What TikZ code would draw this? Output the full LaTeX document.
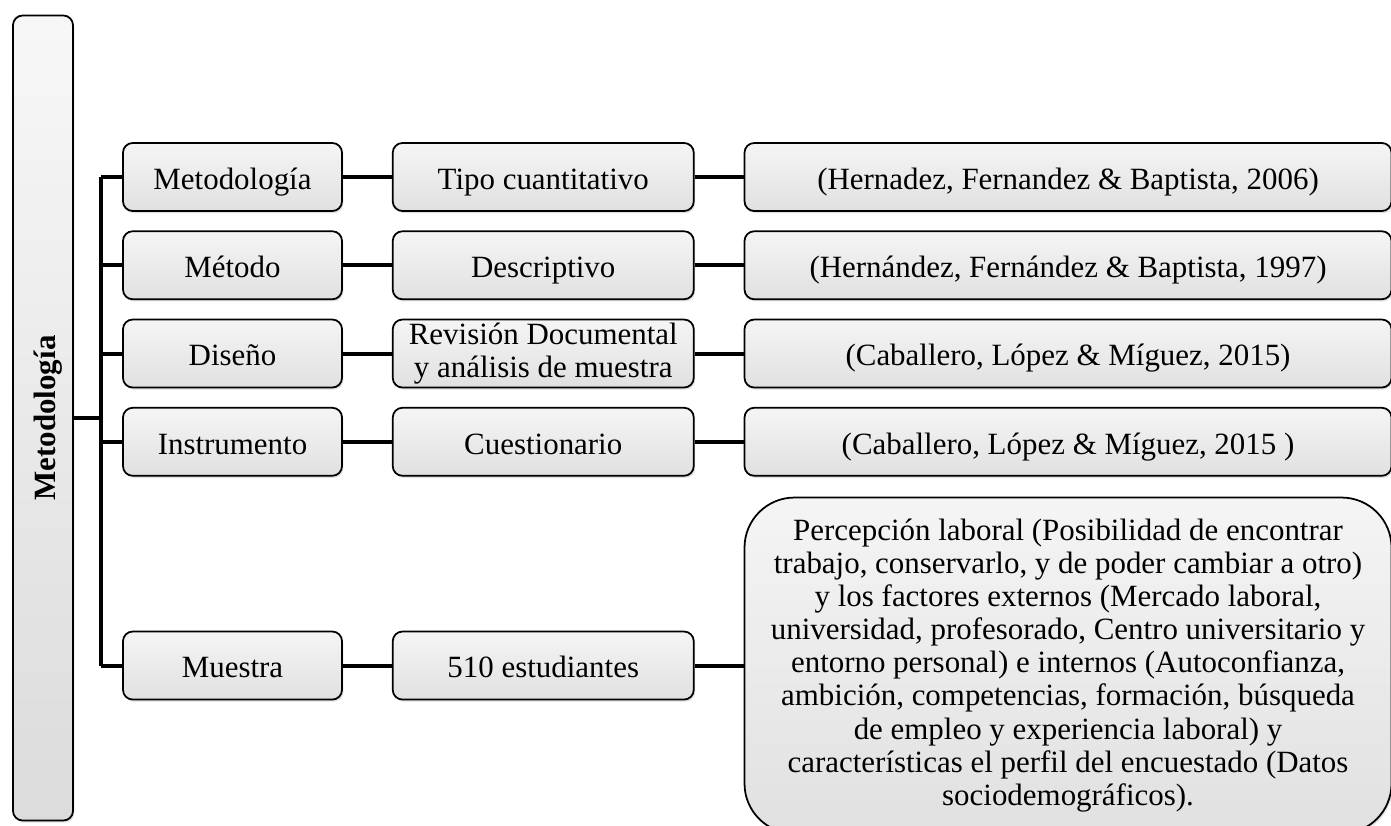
\documentclass[tikz,border=0pt]{standalone}
\usepackage{fontspec}
\setmainfont{Liberation Serif}
\usetikzlibrary{positioning,calc,shadows}
\tikzset{
    line/.style    = {line width=2.3pt, draw=black},
    box/.style     = {draw=black, line width=1pt, rounded corners=5.5pt,
            top color=gray!8, bottom color=gray!24,
            drop shadow={opacity=0.25, shadow xshift=0.8pt, shadow yshift=-1.2pt},
            minimum height=1.36cm, align=center, inner sep=1pt,
            text height=16.5pt, text depth=2.5pt,
            font=\fontsize{17.6}{18.8}\selectfont},
    multi/.style   = {text height={}, text depth={}},
    itemA/.style   = {box, minimum width=4.38cm},
    itemB/.style   = {box, minimum width=6.02cm},
    itemC/.style   = {box, minimum width=12.94cm},
    bigbox/.style  = {itemC, multi, minimum height=6.72cm, rounded corners=1cm},
    rootbox/.style = {box, rotate=90, minimum width=16.1cm, minimum height=1.2cm,
            top color=gray!6, bottom color=gray!28,
            font=\fontsize{17.6}{18.8}\selectfont\bfseries},
}

\begin{document}
\begin{tikzpicture}
    \useasboundingbox (0,0) rectangle (27.82,-16.5);
    % Nodes
    \node[rootbox] (root) at (0.86,-8.36) {Metodología};
    \node[itemA] (metA) at (4.65,-3.54) {Metodología};
    \node[itemB, right=0.98cm of metA] (metB) {Tipo cuantitativo};
    \node[itemC, right=0.98cm of metB] (metC) {(Hernadez, Fernandez \& Baptista, 2006)};
    \node[itemA, below=0.37cm of metA] (mtdA) {Método};
    \node[itemB, right=0.98cm of mtdA] (mtdB) {Descriptivo};
    \node[itemC, right=0.98cm of mtdB] (mtdC) {(Hernández, Fernández \& Baptista, 1997)};
    \node[itemA, below=0.37cm of mtdA] (disA) {Diseño};
    \node[itemB, multi, right=0.98cm of disA] (disB) {Revisión Documental\\y análisis de muestra};
    \node[itemC, right=0.98cm of disB] (disC) {(Caballero, López \& Míguez, 2015)};
    \node[itemA, below=0.37cm of disA] (insA) {Instrumento};
    \node[itemB, right=0.98cm of insA] (insB) {Cuestionario};
    \node[itemC, right=0.98cm of insB] (insC) {(Caballero, López \& Míguez, 2015 )};
    \node[itemA, below=3.08cm of insA] (mueA) {Muestra};
    \node[itemB, right=0.98cm of mueA] (mueB) {510 estudiantes};
    \node[bigbox, right=0.98cm of mueB] (mueC) {Percepción laboral (Posibilidad de encontrar\\
        trabajo, conservarlo, y de poder cambiar a otro)\\
        y los factores externos (Mercado laboral,\\
        universidad, profesorado, Centro universitario y\\
        entorno personal) e internos (Autoconfianza,\\
        ambición, competencias, formación, búsqueda\\
        de empleo y experiencia laboral) y\\
        características el perfil del encuestado (Datos\\
        sociodemográficos).};
    % Arrows
    \coordinate (trunk) at ($(root.south)+(0.54,0)$);
    \draw[line] (root.south) -- (trunk);
    \draw[line] (trunk |- metA.west) -- (trunk |- mueA.west);
    \foreach \n in {met,mtd,dis,ins,mue} {
        \draw[line] (trunk |- \n A.west) -- (\n A.west);
        \draw[line] (\n A) -- (\n B);
        \draw[line] (\n B) -- (\n C);
    }
\end{tikzpicture}
\end{document}
